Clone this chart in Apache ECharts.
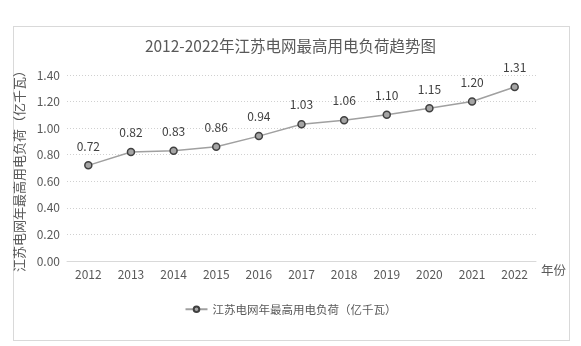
<!DOCTYPE html>
<html>
<head>
<meta charset="utf-8">
<script src="https://cdn.jsdelivr.net/npm/echarts@6/dist/echarts.min.js"></script>
<style>
html,body{margin:0;padding:0;background:#fff;}
#frame{position:absolute;left:13px;top:26px;width:557px;height:315px;border:1px solid #d9d9d9;box-sizing:border-box;}
#chart{position:absolute;left:0;top:0;width:581px;height:346px;}
</style>
</head>
<body>
<div id="frame"></div>
<div id="chart"></div>
<script>
// Years on the category axis
const years = ['2012','2013','2014','2015','2016','2017','2018','2019','2020','2021','2022'];
// Jiangsu grid annual peak load, 100 million kW
const peakLoad = [0.72, 0.82, 0.83, 0.86, 0.94, 1.03, 1.06, 1.10, 1.15, 1.20, 1.31];
const seriesName = '江苏电网年最高用电负荷（亿千瓦）';
const titleText = '2012-2022年江苏电网最高用电负荷趋势图';

const font = '"Noto Sans CJK SC", "Microsoft YaHei", sans-serif';
const chart = echarts.init(document.getElementById('chart'), null, {renderer: 'canvas'});
chart.setOption({
  animation: false,
  textStyle: {fontFamily: font},
  title: {
    text: titleText,
    left: 'center',
    top: 33,
    textStyle: {fontSize: 15.5, fontWeight: 'normal', color: '#595959', fontFamily: font}
  },
  legend: {
    data: [seriesName],
    bottom: 26,
    left: 'center',
    itemWidth: 22,
    itemHeight: 7,
    textStyle: {fontSize: 11.5, color: '#595959', fontFamily: font}
  },
  grid: {left: 67, right: 45, top: 75, bottom: 85},
  xAxis: {
    type: 'category',
    data: years,
    name: '年份',
    nameLocation: 'end',
    nameGap: 5,
    nameTextStyle: {fontSize: 12.5, color: '#595959', verticalAlign: 'top', padding: [3, 0, 0, 0]},
    axisLine: {lineStyle: {color: '#d9d9d9'}},
    axisTick: {show: false},
    axisLabel: {fontSize: 12, color: '#595959', margin: 7}
  },
  yAxis: {
    type: 'value',
    min: 0,
    max: 1.4,
    interval: 0.2,
    name: seriesName,
    nameLocation: 'middle',
    nameGap: 39,
    nameTextStyle: {fontSize: 13, color: '#595959'},
    axisLine: {show: false},
    axisTick: {show: false},
    axisLabel: {fontSize: 12, color: '#595959', margin: 7, formatter: v => v.toFixed(2)},
    splitLine: {lineStyle: {color: '#d0d0d0', type: [1, 2]}}
  },
  series: [{
    name: seriesName,
    type: 'line',
    data: peakLoad,
    symbol: 'circle',
    symbolSize: 7,
    lineStyle: {color: '#a0a0a0', width: 1.5},
    itemStyle: {color: '#a5a5a5', borderColor: '#404040', borderWidth: 1.5},
    label: {
      show: true,
      position: 'top',
      distance: 9,
      fontSize: 12,
      color: '#404040',
      formatter: p => p.value.toFixed(2)
    }
  }]
});
</script>
</body>
</html>
